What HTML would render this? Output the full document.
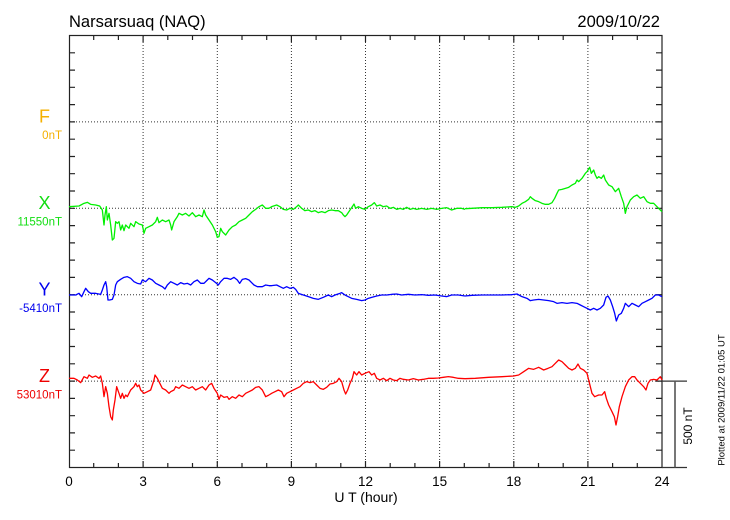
<!DOCTYPE html>
<html><head><meta charset="utf-8"><style>
html,body{margin:0;padding:0;background:#fff;}
svg{display:block;}
text{font-family:"Liberation Sans",Arial,sans-serif;}
</style></head><body>
<svg width="730" height="520" viewBox="0 0 730 520" xmlns="http://www.w3.org/2000/svg">
<rect x="0" y="0" width="730" height="520" fill="#fff"/>
<text x="69" y="27" font-size="16.5" fill="#000">Narsarsuaq (NAQ)</text>
<text x="660" y="27" font-size="16.5" fill="#000" text-anchor="end">2009/10/22</text>

<g stroke="#333" stroke-width="1" stroke-dasharray="1,2" fill="none">
<line x1="143.1" y1="36" x2="143.1" y2="467"/>
<line x1="217.3" y1="36" x2="217.3" y2="467"/>
<line x1="291.4" y1="36" x2="291.4" y2="467"/>
<line x1="365.5" y1="36" x2="365.5" y2="467"/>
<line x1="439.6" y1="36" x2="439.6" y2="467"/>
<line x1="513.8" y1="36" x2="513.8" y2="467"/>
<line x1="587.9" y1="36" x2="587.9" y2="467"/>
<line x1="70" y1="121.9" x2="662" y2="121.9"/>
<line x1="70" y1="208.3" x2="662" y2="208.3"/>
<line x1="70" y1="294.7" x2="662" y2="294.7"/>
<line x1="70" y1="381.1" x2="662" y2="381.1"/>
</g>

<g stroke="#222" stroke-width="1.2" fill="none">
<rect x="69.5" y="35.5" width="592.5" height="432"/>
<path d="M69 52.8h6M69 70.1h6M69 87.3h6M69 104.6h6M69 121.9h6M69 139.2h6M69 156.5h6M69 173.7h6M69 191h6M69 208.3h6M69 225.6h6M69 242.9h6M69 260.1h6M69 277.4h6M69 294.7h6M69 312h6M69 329.3h6M69 346.5h6M69 363.8h6M69 381.1h6M69 398.4h6M69 415.7h6M69 432.9h6M69 450.2h6"/>
<path d="M656 52.8h6M656 70.1h6M656 87.3h6M656 104.6h6M656 121.9h6M656 139.2h6M656 156.5h6M656 173.7h6M656 191h6M656 208.3h6M656 225.6h6M656 242.9h6M656 260.1h6M656 277.4h6M656 294.7h6M656 312h6M656 329.3h6M656 346.5h6M656 363.8h6M656 381.1h6M656 398.4h6M656 415.7h6M656 432.9h6M656 450.2h6"/>
<path d="M93.7 36v4M118.4 36v4M143.1 36v6M167.8 36v4M192.5 36v4M217.3 36v6M242 36v4M266.7 36v4M291.4 36v6M316.1 36v4M340.8 36v4M365.5 36v6M390.2 36v4M414.9 36v4M439.6 36v6M464.3 36v4M489.1 36v4M513.8 36v6M538.5 36v4M563.2 36v4M587.9 36v6M612.6 36v4M637.3 36v4"/>
<path d="M93.7 467v-4M118.4 467v-4M143.1 467v-6M167.8 467v-4M192.5 467v-4M217.3 467v-6M242 467v-4M266.7 467v-4M291.4 467v-6M316.1 467v-4M340.8 467v-4M365.5 467v-6M390.2 467v-4M414.9 467v-4M439.6 467v-6M464.3 467v-4M489.1 467v-4M513.8 467v-6M538.5 467v-4M563.2 467v-4M587.9 467v-6M612.6 467v-4M637.3 467v-4"/>
</g>

<!-- scale bar -->
<g stroke="#333" fill="none">
<line x1="662" y1="381.1" x2="687" y2="381.1" stroke-width="1.2"/>
<line x1="662" y1="467.5" x2="687" y2="467.5" stroke-width="1.2"/>
<line x1="675" y1="381" x2="675" y2="467.5" stroke-width="1.6" stroke="#555"/>
</g>
<text transform="translate(692,426) rotate(-90)" font-size="12" text-anchor="middle" fill="#000">500 nT</text>
<text transform="translate(724.5,400) rotate(-90)" font-size="9.5" text-anchor="middle" fill="#000">Plotted at 2009/11/22 01:05 UT</text>

<!-- x tick labels -->
<g font-size="13.5" fill="#000" text-anchor="middle">
<text x="69" y="486">0</text>
<text x="143.1" y="486">3</text>
<text x="217.3" y="486">6</text>
<text x="291.4" y="486">9</text>
<text x="365.5" y="486">12</text>
<text x="439.6" y="486">15</text>
<text x="513.8" y="486">18</text>
<text x="587.9" y="486">21</text>
<text x="662" y="486">24</text>
</g>
<text x="366" y="502" font-size="14" text-anchor="middle" fill="#000">U T (hour)</text>

<!-- left labels -->
<text x="44.5" y="122.5" font-size="18" text-anchor="middle" fill="#f5b000">F</text>
<text x="62" y="139" font-size="11.5" text-anchor="end" fill="#f5b000">0nT</text>
<text x="44.5" y="209" font-size="18" text-anchor="middle" fill="#11dd11">X</text>
<text x="62" y="225.5" font-size="11.5" text-anchor="end" fill="#11dd11">11550nT</text>
<text x="44.5" y="295.5" font-size="18" text-anchor="middle" fill="#0000ee">Y</text>
<text x="62" y="312" font-size="11.5" text-anchor="end" fill="#0000ee">-5410nT</text>
<text x="44.5" y="382" font-size="18" text-anchor="middle" fill="#ee0000">Z</text>
<text x="62" y="398.5" font-size="11.5" text-anchor="end" fill="#ee0000">53010nT</text>

<!-- traces -->
<g fill="none" stroke-width="1.3" stroke-linejoin="round">
<g transform="translate(69,160) scale(0.33333)">
<polyline vector-effect="non-scaling-stroke" stroke="#00f000" points="0,140 30,138 45,130 55,127 65,133 80,135 92,138 100,150 105,195 108,165 112,140 115,180 120,160 125,195 130,240 135,235 140,185 145,190 150,185 155,210 160,195 165,212 170,195 180,205 185,190 195,200 200,185 210,192 220,195 225,220 230,205 240,200 250,195 260,185 265,172 270,188 280,180 290,185 300,180 305,195 308,210 315,185 325,170 330,160 340,165 350,160 360,168 370,158 380,170 390,165 400,170 405,150 410,165 420,180 430,195 440,215 445,232 450,230 455,205 460,215 470,225 480,210 490,200 500,195 510,185 520,180 530,175 540,165 550,155 560,148 570,140 580,135 590,145 600,145"/>
<polyline vector-effect="non-scaling-stroke" stroke="#0000ff" points="0,405 20,405 30,400 38,410 45,395 50,385 58,395 65,400 80,400 95,403 100,390 105,375 110,365 113,380 117,420 122,420 130,418 135,405 140,375 145,365 155,358 165,352 175,350 185,355 195,365 205,370 215,372 220,360 230,365 240,355 250,360 260,370 270,375 280,380 288,387 295,375 305,365 315,370 325,375 335,368 345,372 355,370 365,375 375,365 385,360 395,370 405,370 415,360 420,355 430,360 440,368 448,375 455,365 465,355 475,355 485,358 495,352 505,360 512,370 520,358 530,356 540,360 548,368 555,375 565,380 580,380 590,375 600,377"/>
<polyline vector-effect="non-scaling-stroke" stroke="#ff0000" points="0,655 15,655 25,660 35,668 45,650 55,655 60,645 70,652 80,648 90,655 95,648 100,670 105,710 110,680 115,700 120,740 125,770 130,780 133,750 138,720 143,680 150,700 155,715 160,700 165,715 170,705 175,710 180,700 185,690 195,680 200,670 205,680 210,675 215,690 220,695 225,700 235,695 245,690 250,675 255,660 258,645 265,655 270,665 280,685 290,690 300,700 305,695 315,690 320,680 330,685 340,675 350,680 360,685 370,680 380,690 390,685 400,680 410,690 420,675 428,670 435,685 445,700 450,718 455,705 465,712 475,710 480,718 490,710 500,715 510,705 520,710 530,700 540,695 550,690 560,682 570,680 580,690 585,700 590,710 600,705"/>
</g>
<g transform="translate(265,160) scale(0.33333)">
<polyline vector-effect="non-scaling-stroke" stroke="#00f000" points="12,145 20,140 35,135 45,140 55,148 65,150 75,145 85,148 95,140 100,135 110,145 120,152 130,150 140,155 150,152 160,158 170,155 180,158 190,152 200,150 210,152 220,152 230,158 235,165 240,170 245,165 255,150 262,140 267,132 272,145 280,140 290,145 300,148 310,140 320,135 328,128 335,138 345,135 355,140 365,138 375,145 385,142 395,148 405,145 415,148 425,142 435,148 445,145 455,148 470,145 485,148 500,145 515,148 530,145 545,143 560,150 575,145 590,145 600,148"/>
<polyline vector-effect="non-scaling-stroke" stroke="#0000ff" points="12,377 20,377 35,375 45,380 55,385 65,380 75,385 85,382 92,388 100,400 115,405 130,410 145,415 160,418 175,412 190,405 200,410 210,405 225,400 230,398 240,405 250,410 260,415 275,418 290,422 300,420 310,415 320,412 335,408 350,405 365,405 380,403 395,402 410,405 430,403 450,405 470,404 490,406 510,405 530,408 545,410 560,405 580,405 600,408"/>
<polyline vector-effect="non-scaling-stroke" stroke="#ff0000" points="12,705 20,700 30,695 40,690 50,695 57,710 65,700 75,695 85,690 95,685 105,680 115,670 125,665 135,668 145,665 155,675 165,685 175,688 185,682 195,672 205,670 215,665 222,655 230,665 237,690 242,702 248,690 255,670 262,655 267,635 275,645 282,635 290,645 300,640 312,635 320,645 328,640 335,655 345,660 355,655 365,662 375,655 385,660 395,662 405,655 415,658 430,660 445,656 460,660 475,658 490,655 505,655 520,654 535,652 550,650 565,652 580,655 600,656"/>
</g>
<g transform="translate(462,160) scale(0.33333)">
<polyline vector-effect="non-scaling-stroke" stroke="#00f000" points="9,146 30,145 60,143 90,143 120,142 150,140 160,142 170,138 180,130 190,125 200,118 205,110 210,115 220,122 230,125 240,130 250,133 260,133 270,128 278,115 285,100 290,90 300,88 310,85 320,82 330,75 340,70 345,60 350,65 360,55 370,40 375,35 383,22 388,40 395,30 400,45 405,55 410,50 418,55 425,45 430,60 440,75 450,80 460,95 470,85 478,110 485,130 490,160 495,140 505,120 515,110 525,105 535,115 545,110 555,125 565,130 575,130 585,140 595,150 600,155"/>
<polyline vector-effect="non-scaling-stroke" stroke="#0000ff" points="9,408 30,406 60,405 90,405 120,405 150,404 165,402 180,410 195,415 205,422 215,420 230,418 245,420 260,422 275,425 285,430 300,428 315,430 330,428 345,430 355,435 365,440 375,445 385,450 395,445 405,450 415,445 425,435 432,412 438,408 445,420 452,440 458,460 463,483 470,465 478,460 485,445 490,430 500,440 510,430 520,435 530,440 540,430 550,425 560,420 570,415 580,405 590,405 600,410"/>
<polyline vector-effect="non-scaling-stroke" stroke="#ff0000" points="9,656 40,655 80,652 120,650 155,648 170,645 185,635 200,625 215,628 230,622 245,630 258,625 270,620 280,610 290,600 300,605 310,615 320,625 330,630 340,625 348,612 355,625 365,630 375,640 380,660 385,680 390,700 398,710 410,705 420,705 428,695 433,715 440,735 450,755 457,770 462,795 467,770 472,740 480,710 490,680 500,660 510,650 518,650 525,660 535,670 545,680 552,690 558,670 565,660 575,658 585,660 595,650 600,660"/>
</g>
</g>
</svg>
</body></html>
